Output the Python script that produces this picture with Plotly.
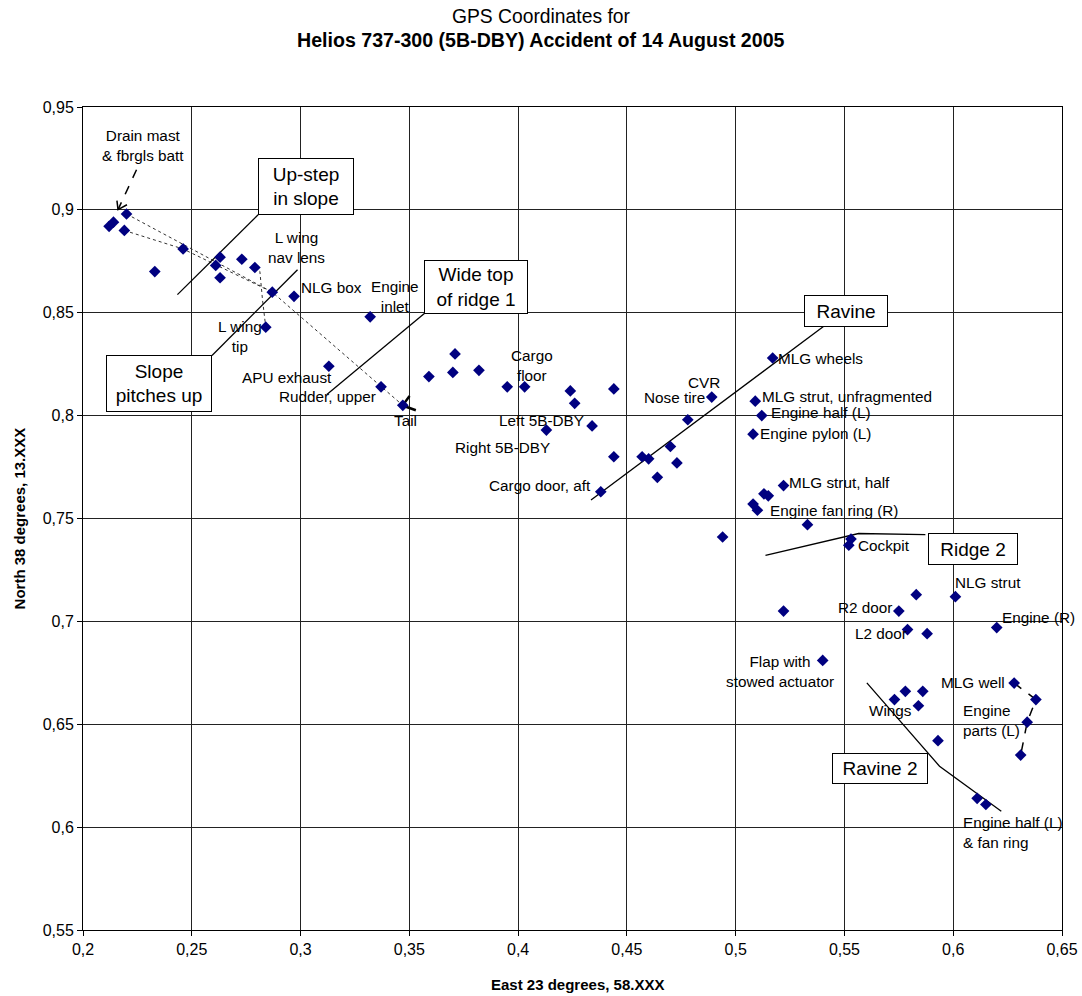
import plotly.graph_objects as go

# ---------------- data ----------------
east = [0.212, 0.214, 0.220, 0.219, 0.246, 0.233, 0.263, 0.261, 0.263, 0.273,
        0.279, 0.287, 0.297, 0.284, 0.332, 0.313, 0.337, 0.347, 0.359, 0.371,
        0.370, 0.382, 0.395, 0.403, 0.424, 0.426, 0.444, 0.434, 0.413, 0.444,
        0.438, 0.517, 0.489, 0.478, 0.509, 0.512, 0.508, 0.470, 0.457, 0.460,
        0.473, 0.464, 0.522, 0.513, 0.515, 0.508, 0.510, 0.533, 0.494, 0.553,
        0.552, 0.583, 0.601, 0.575, 0.522, 0.620, 0.579, 0.588, 0.540, 0.628,
        0.578, 0.586, 0.573, 0.638, 0.584, 0.634, 0.593, 0.631, 0.611, 0.615]
north = [0.892, 0.894, 0.898, 0.890, 0.881, 0.870, 0.877, 0.873, 0.867, 0.876,
         0.872, 0.860, 0.858, 0.843, 0.848, 0.824, 0.814, 0.805, 0.819, 0.830,
         0.821, 0.822, 0.814, 0.814, 0.812, 0.806, 0.813, 0.795, 0.793, 0.780,
         0.763, 0.828, 0.809, 0.798, 0.807, 0.800, 0.791, 0.785, 0.780, 0.779,
         0.777, 0.770, 0.766, 0.762, 0.761, 0.757, 0.754, 0.747, 0.741, 0.740,
         0.737, 0.713, 0.712, 0.705, 0.705, 0.697, 0.696, 0.694, 0.681, 0.670,
         0.666, 0.666, 0.662, 0.662, 0.659, 0.651, 0.642, 0.635, 0.614, 0.611]

x_tickvals = [0.2, 0.25, 0.3, 0.35, 0.4, 0.45, 0.5, 0.55, 0.6, 0.65]
x_ticktext = ["0,2", "0,25", "0,3", "0,35", "0,4", "0,45", "0,5", "0,55", "0,6", "0,65"]
y_tickvals = [0.55, 0.6, 0.65, 0.7, 0.75, 0.8, 0.85, 0.9, 0.95]
y_ticktext = ["0,55", "0,6", "0,65", "0,7", "0,75", "0,8", "0,85", "0,9", "0,95"]

title_line1 = "GPS Coordinates for"
title_line2 = "Helios 737-300 (5B-DBY) Accident of 14 August 2005"
x_title = "East 23 degrees, 58.XXX"
y_title = "North 38 degrees, 13.XXX"

# point labels: text, x, y, anchor
labels = [
    ("Drain mast<br>& fbrgls batt", 0.2278, 0.9313, "center"),
    ("L wing<br>nav lens", 0.2982, 0.8816, "center"),
    ("NLG box", 0.2997, 0.8625, "left"),
    ("Engine<br>inlet", 0.3433, 0.8581, "center"),
    ("L wing<br>tip", 0.2721, 0.8385, "center"),
    ("APU exhaust", 0.2938, 0.8183, "center"),
    ("Rudder, upper", 0.3122, 0.8094, "center"),
    ("Tail", 0.3484, 0.7976, "center"),
    ("Cargo<br>floor", 0.4063, 0.8243, "center"),
    ("Left 5B-DBY", 0.4109, 0.7976, "center"),
    ("Right 5B-DBY", 0.3927, 0.7846, "center"),
    ("Cargo door, aft", 0.4099, 0.7660, "center"),
    ("CVR", 0.4855, 0.8162, "center"),
    ("Nose tire", 0.4720, 0.8086, "center"),
    ("MLG wheels", 0.5192, 0.8280, "left"),
    ("MLG strut, unfragmented", 0.5117, 0.8094, "left"),
    ("Engine half (L)", 0.5159, 0.8016, "left"),
    ("Engine pylon (L)", 0.5107, 0.7911, "left"),
    ("MLG strut, half", 0.5240, 0.7673, "left"),
    ("Engine fan ring (R)", 0.5151, 0.7538, "left"),
    ("Cockpit", 0.5557, 0.7370, "left"),
    ("NLG strut", 0.6002, 0.7187, "left"),
    ("R2 door", 0.5593, 0.7066, "center"),
    ("Engine (R)", 0.6220, 0.7017, "left"),
    ("L2 door", 0.5668, 0.6939, "center"),
    ("Flap with<br>stowed actuator", 0.5202, 0.6758, "center"),
    ("MLG well", 0.6091, 0.6704, "center"),
    ("Wings", 0.5710, 0.6568, "center"),
    ("Engine<br>parts (L)", 0.6039, 0.6519, "left"),
    ("Engine half (L)<br>& fan ring", 0.6041, 0.5974, "left"),
]

# boxed terrain callouts: text, centre x, centre y, box w px, box h px
boxes = [
    ("Up-step<br>in slope", 0.3026, 0.9114, 96, 57),
    ("Slope<br>pitches up", 0.2350, 0.8154, 106, 57),
    ("Wide top<br>of ridge 1", 0.3808, 0.8627, 104, 54),
    ("Ravine", 0.5508, 0.8510, 84, 32),
    ("Ridge 2", 0.6089, 0.7354, 90, 32),
    ("Ravine 2", 0.5663, 0.6286, 96, 31),
]

# callout leader lines (solid)
leaders = [
    ([0.2805, 0.2434], [0.8976, 0.8588]),
    ([0.2593, 0.2986], [0.8292, 0.8709]),
    ([0.3569, 0.3121], [0.8496, 0.8103]),
    ([0.5405, 0.4335], [0.8434, 0.7590]),
    ([0.5137, 0.5565, 0.5872], [0.7321, 0.7427, 0.7422]),
    ([0.5603, 0.5937, 0.6221], [0.6701, 0.6296, 0.6077]),
]

# dotted connectors between pieces
dotted = [
    ([0.220, 0.287, 0.347], [0.898, 0.860, 0.805]),
    ([0.219, 0.246, 0.287], [0.890, 0.881, 0.860]),
    ([0.279, 0.2813, 0.2825, 0.284], [0.872, 0.8701, 0.8564, 0.843]),
]
# dashed connectors
dashed = [
    ([0.2246, 0.2161], [0.9195, 0.9001]),
    ([0.628, 0.638, 0.634, 0.631], [0.670, 0.662, 0.651, 0.635]),
]
# arrow-head strokes (drain mast arrow, tail mark)
heads = [
    ([0.2156, 0.2161, 0.2202], [0.9045, 0.9001, 0.9025], 1.5),
    ([0.3501, 0.3469, 0.3530], [0.8095, 0.8049, 0.8026], 2.5),
]

FONT = "Liberation Sans, Arial, sans-serif"

fig = go.Figure()

for xs, ys in dotted:
    fig.add_trace(go.Scatter(x=xs, y=ys, mode="lines", hoverinfo="skip",
                             line=dict(color="#333333", width=1, dash="dot"), showlegend=False))
for xs, ys in dashed:
    fig.add_trace(go.Scatter(x=xs, y=ys, mode="lines", hoverinfo="skip",
                             line=dict(color="black", width=1.5, dash="dash"), showlegend=False))
for xs, ys in leaders:
    fig.add_trace(go.Scatter(x=xs, y=ys, mode="lines", hoverinfo="skip",
                             line=dict(color="black", width=1.3), showlegend=False))
for xs, ys, w in heads:
    fig.add_trace(go.Scatter(x=xs, y=ys, mode="lines", hoverinfo="skip",
                             line=dict(color="black", width=w), showlegend=False))

fig.add_trace(go.Scatter(
    x=east, y=north, mode="markers",
    marker=dict(symbol="diamond", size=9, color="#000080", line=dict(width=0)),
    showlegend=False, cliponaxis=False))

annotations = []
for text, x, y, anc in labels:
    annotations.append(dict(text=text, x=x, y=y, xref="x", yref="y", showarrow=False,
                            xanchor=anc, yanchor="middle", align=anc,
                            font=dict(family=FONT, size=15.3, color="black"), borderpad=0))
for text, x, y, w, h in boxes:
    annotations.append(dict(text=text, x=x, y=y, xref="x", yref="y", showarrow=False,
                            xanchor="center", yanchor="middle", align="center",
                            width=w - 2, height=h - 2, borderpad=0,
                            bordercolor="black", borderwidth=1, bgcolor="white",
                            font=dict(family=FONT, size=19, color="black")))

# chart title and axis titles
annotations += [
    dict(text=title_line1, x=0.4678, y=1.1094, xref="paper", yref="paper", showarrow=False,
         xanchor="center", yanchor="middle", font=dict(family=FONT, size=19.3, color="black")),
    dict(text="<b>" + title_line2 + "</b>", x=0.4678, y=1.0814, xref="paper", yref="paper",
         showarrow=False, xanchor="center", yanchor="middle",
         font=dict(family=FONT, size=19.6, color="black")),
    dict(text="<b>" + x_title + "</b>", x=0.5046, y=-0.0668, xref="paper", yref="paper",
         showarrow=False, xanchor="center", yanchor="middle",
         font=dict(family=FONT, size=15, color="black")),
    dict(text="<b>" + y_title + "</b>", x=-0.0644, y=0.5, xref="paper", yref="paper",
         showarrow=False, xanchor="center", yanchor="middle", textangle=-90,
         font=dict(family=FONT, size=15, color="black")),
]

axis_common = dict(showgrid=True, gridcolor="#222222", gridwidth=1,
                   showline=True, linecolor="black", linewidth=1, mirror=True,
                   ticks="outside", ticklen=5, tickcolor="black", tickwidth=1,
                   zeroline=False, automargin=False,
                   tickfont=dict(family=FONT, size=16, color="black"))

fig.update_layout(
    width=1082, height=996,
    margin=dict(l=83, r=20, t=107, b=66, autoexpand=False),
    paper_bgcolor="white", plot_bgcolor="white",
    xaxis=dict(range=[0.2, 0.65], tickvals=x_tickvals, ticktext=x_ticktext, **axis_common),
    yaxis=dict(range=[0.55, 0.95], tickvals=y_tickvals, ticktext=y_ticktext, **axis_common),
    annotations=annotations,
    showlegend=False,
)

fig.write_html("out.html", config={"displayModeBar": False},
               post_script="document.body.style.margin='0px';document.body.style.overflow='hidden';")
